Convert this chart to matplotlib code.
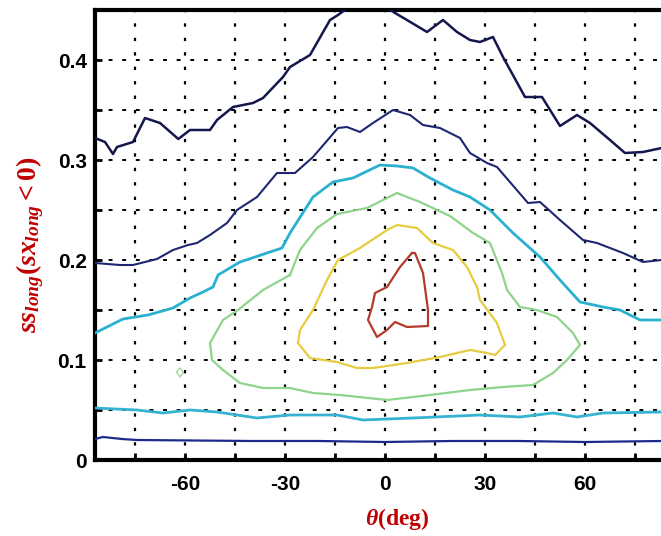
import numpy as np
import matplotlib
matplotlib.use('Agg')
import matplotlib.pyplot as plt

plt.rcParams['mathtext.fontset'] = 'custom'
plt.rcParams['mathtext.rm'] = 'Liberation Serif:bold'
plt.rcParams['mathtext.it'] = 'Liberation Serif:italic:bold'
plt.rcParams['mathtext.bf'] = 'Liberation Serif:bold'

# contour lines: theta (deg), ss_long
c1_x = [-87, -84, -81.6, -80.4, -75.6, -72, -67.5, -62, -58.5, -52.5, -50.4, -45.6, -39.6, -36.6,
        -30.6, -28.5, -22.5, -16.5, -14.1, -10, -2, 3, 6.6, 12.6, 17.4, 21.6, 25.5, 28.5, 32.4,
        35.4, 42, 47.1, 52.5, 57.6, 61.5, 67.5, 72, 77.4, 83]
c1_y = [0.322, 0.318, 0.306, 0.313, 0.318, 0.342, 0.337, 0.321, 0.330, 0.330, 0.340, 0.353, 0.357, 0.362,
        0.383, 0.393, 0.405, 0.440, 0.445, 0.455, 0.458, 0.447, 0.440, 0.428, 0.440, 0.428, 0.420, 0.418, 0.423,
        0.403, 0.363, 0.363, 0.334, 0.345, 0.337, 0.320, 0.307, 0.308, 0.312]

c2_x = [-87, -79.5, -75.6, -68.4, -63.6, -59.1, -56.4, -52.5, -47.4, -44.4, -38.4, -32.4, -29.4,
        -27, -21.6, -14.1, -11.4, -7.5, -3.6, 2.4, 7.5, 11.4, 16.5, 22.5, 25.5, 30.6, 33.6,
        42.9, 46.5, 52.5, 59.4, 63.6, 71.4, 77.4, 83]
c2_y = [0.197, 0.195, 0.195, 0.201, 0.210, 0.215, 0.217, 0.225, 0.237, 0.250, 0.263, 0.287, 0.287,
        0.287, 0.303, 0.332, 0.333, 0.328, 0.337, 0.350, 0.345, 0.335, 0.332, 0.322, 0.307, 0.297, 0.293,
        0.257, 0.258, 0.240, 0.220, 0.217, 0.207, 0.198, 0.200]

c3_x = [-87, -78.6, -71.1, -63.6, -58.5, -54.6, -51.6, -50.1, -43.5, -35.4, -30.9, -28.5, -21.6,
        -15.6, -9.6, -1.5, 3.6, 8.4, 13.5, 20.4, 25.5, 31.5, 38.4, 46.5, 52.5, 58.5, 65.4, 70.5,
        76.5, 83]
c3_y = [0.127, 0.141, 0.145, 0.152, 0.162, 0.168, 0.173, 0.185, 0.198, 0.207, 0.212, 0.227, 0.263,
        0.278, 0.282, 0.295, 0.294, 0.292, 0.282, 0.270, 0.263, 0.250, 0.227, 0.203, 0.180, 0.158, 0.153, 0.150,
        0.140, 0.140]

c4_x = [-28.5, -36.6, -44.1, -48.6, -52.5, -51.9, -48.6, -43.5, -36.6, -28.5, -21.6, -13.5, 0.6,
        13.5, 25.5, 35.4, 44.4, 50.4, 54.6, 58.5, 56.4, 51.6, 45.6, 40.5, 36.6, 35.1, 31.5, 26.4,
        19.5, 10.5, 3.6, -5.4, -14.4, -20.4, -25.5, -28.5]
c4_y = [0.185, 0.170, 0.150, 0.140, 0.117, 0.100, 0.090, 0.077, 0.072, 0.072, 0.067, 0.065, 0.060,
        0.065, 0.070, 0.073, 0.075, 0.087, 0.100, 0.115, 0.127, 0.143, 0.150, 0.153, 0.170, 0.187, 0.217, 0.227,
        0.244, 0.258, 0.267, 0.252, 0.246, 0.232, 0.210, 0.185]

c5_x = [-26.1, -25.5, -21.6, -17.4, -14.1, -7.5, 0.6, 3.6, 9.6, 14.4, 20.4, 24.6, 27.6, 28.5,
        33.6, 36, 33, 30.6, 25.5, 16.5, 6.6, -3.6, -8.4, -14.4, -22.5, -26.1]
c5_y = [0.117, 0.130, 0.150, 0.180, 0.200, 0.212, 0.230, 0.235, 0.232, 0.217, 0.210, 0.193, 0.173, 0.160,
        0.137, 0.115, 0.105, 0.107, 0.110, 0.103, 0.097, 0.092, 0.092, 0.098, 0.102, 0.117]

c6_x = [8.1, 4.5, 0.6, -3, -3.9, -5.1, -2.4, 0.6, 3, 6.6, 12.9, 12.9, 11.4, 9, 8.1]
c6_y = [0.207, 0.193, 0.173, 0.167, 0.153, 0.140, 0.123, 0.130, 0.138, 0.133, 0.134, 0.150, 0.187, 0.207, 0.207]

c7_x = [-87, -74.4, -66.6, -58.5, -50.4, -44.4, -38.4, -28.5, -14.4, -6.6, 8.4, 28.5, 40.5, 50.4,
        57.6, 65.4, 83]
c7_y = [0.052, 0.050, 0.047, 0.050, 0.048, 0.045, 0.042, 0.045, 0.045, 0.040, 0.042, 0.045, 0.043, 0.047,
        0.043, 0.047, 0.048]

c8_x = [-87, -84.6, -78.9, -74.4, -40, -20, 0, 20, 40, 60, 83]
c8_y = [0.021, 0.023, 0.021, 0.020, 0.019, 0.019, 0.018, 0.019, 0.019, 0.018, 0.019]

spot_x = [-62.5, -61.5, -60.5, -61.5, -62.5]
spot_y = [0.088, 0.092, 0.087, 0.083, 0.088]

xticks = [-75, -60, -45, -30, -15, 0, 15, 30, 45, 60, 75]
xtick_labels = ['', '-60', '', '-30', '', '0', '', '30', '', '60', '']
yticks = [0, 0.05, 0.1, 0.15, 0.2, 0.25, 0.3, 0.35, 0.4]
ytick_labels = ['0', '', '0.1', '', '0.2', '', '0.3', '', '0.4']

fig = plt.figure(figsize=(6.61, 5.36), dpi=100)
ax = fig.add_axes([95/661, 76/536, 590/661, 450/536])

for xx in xticks:
    ax.axvline(xx, color='black', linestyle=(0, (1.5, 5)), linewidth=1.6, zorder=1)
for yy in yticks[1:]:
    ax.axhline(yy, color='black', linestyle=(0, (2, 5)), linewidth=1.4, zorder=1)

lines = [(c8_x, c8_y, '#1c2a8c', 1.6),
         (c7_x, c7_y, '#36b2d2', 2.0),
         (c1_x, c1_y, '#14164e', 1.8),
         (c2_x, c2_y, '#1e2672', 1.5),
         (c3_x, c3_y, '#2ab0d0', 2.0),
         (c4_x, c4_y, '#8ed48a', 1.6),
         (c5_x, c5_y, '#e6cc3e', 1.6),
         (c6_x, c6_y, '#b43a2a', 1.6),
         (spot_x, spot_y, '#a6d8a0', 1.0)]
for xs, ys, col, lw in lines:
    ax.plot(xs, ys, color=col, linewidth=lw, zorder=3)

ax.set_xlim(-87, 90)
ax.set_ylim(0, 0.45)
ax.set_xticks(xticks)
ax.set_xticklabels(xtick_labels)
ax.set_yticks(yticks)
ax.set_yticklabels(ytick_labels)
ax.tick_params(direction='in', length=5, width=2, pad=6, labelsize=15)
ax.tick_params(axis='x', pad=11)
for lab in ax.get_xticklabels() + ax.get_yticklabels():
    lab.set_fontweight('bold')
    lab.set_family('Liberation Sans')

for s in ['left', 'bottom', 'top']:
    ax.spines[s].set_linewidth(3)
ax.spines['right'].set_visible(False)

fig.text(30/661, 1 - 245/536, r'$ss_{long}(sx_{long}<0)$', rotation=90, color='#c00000',
         fontsize=20, ha='center', va='center')
fig.text(397/661, 1 - 519/536, r'$\theta$(deg)', color='#c00000', fontsize=17,
         family='Liberation Serif', fontweight='bold', ha='center', va='center')

fig.savefig('out.png', dpi=100)
